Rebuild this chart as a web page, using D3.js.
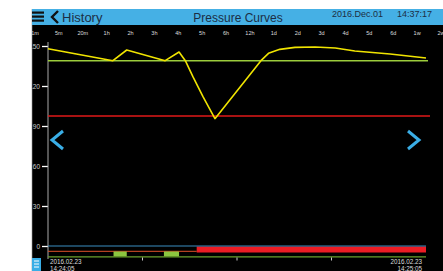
<!DOCTYPE html>
<html>
<head>
<meta charset="utf-8">
<script src="https://cdn.jsdelivr.net/npm/d3@7"></script>
<style>
  body { margin: 0; background: #fff; }
  svg { display: block; font-family: "Liberation Sans", Arial, sans-serif; }
</style>
</head>
<body>
<svg id="chart"></svg>
<script>
const width = 443;
const height = 271;

// time window labels across the top
const topLabels = ['1m','5m','20m','1h','2h','3h','4h','5h','6h','12h','1d','2d','3d','4d','5d','6d','1w','2w'];
const yTicks = [0, 30, 60, 90, 120, 150];

// pressure curve, seconds from 14:24:05
const seconds  = [0, 10.3, 12.5, 18.6, 20.8, 21.8, 23.0, 24.6, 26.5, 33.8, 35.0, 36.8, 39.2, 42.4, 45.6, 48.7, 54.3, 60];
const pressure = [148, 139, 147, 139, 145.5, 139, 127, 112, 95.5, 139, 144.5, 147.5, 149, 149.3, 148.5, 146.3, 144, 141];

const upperLimit = 139;
const lowerLimit = 97.5;

// status bars at the bottom
const greenEvents = [[10.4, 12.5], [18.4, 20.8]];
const redSpan = [23.6, 60];
const bottomTicks = [15, 30, 45];
const startLabel = ['2016.02.23', '14:24:05'];
const endLabel = ['2016.02.23', '14:25:05'];

const colors = {
    header: '#45b0e5',
    yellow: '#f0e400',
    limitGreen: '#9ccc3c',
    limitRed: '#e01818',
    blue: '#3a8ec2',
    orange: '#e0502a',
    barRed: '#ec1c24',
    barGreen: '#8cc63f',
    arrow: '#3aaee6'
};

const svg = d3.select('#chart')
    .attr('width', width)
    .attr('height', height);

// black panel
svg.append('rect').attr('x', 32).attr('y', 0).attr('width', width - 32).attr('height', height).attr('fill', '#000');

const x = d3.scaleLinear().domain([0, 60]).range([48, 426]);
const y = d3.scaleLinear().domain([0, 150]).range([246, 46]);
const xTop = d3.scalePoint().domain(topLabels).range([35, 441]);

// top labels
svg.append('g').selectAll('text')
    .data(topLabels)
    .join('text')
    .attr('x', d => xTop(d))
    .attr('y', 35)
    .attr('text-anchor', 'middle')
    .attr('fill', '#ddd')
    .attr('font-size', 5.5)
    .text(d => d);

// y axis
const yAxis = svg.append('g')
    .attr('transform', 'translate(48,0)')
    .call(d3.axisLeft(y).tickValues(yTicks).tickSize(6).tickPadding(2));
yAxis.select('.domain').remove();
yAxis.selectAll('line').attr('stroke', '#fff').attr('stroke-width', 1.3);
yAxis.selectAll('text').attr('fill', '#ccc').attr('font-size', 6.5).attr('font-family', '"Liberation Sans", Arial, sans-serif');
svg.append('line').attr('x1', 48).attr('x2', 48).attr('y1', 42).attr('y2', 259)
    .attr('stroke', '#aaa').attr('stroke-width', 1);

// limit lines
svg.append('line').attr('x1', 48).attr('x2', 428).attr('y1', y(upperLimit)).attr('y2', y(upperLimit))
    .attr('stroke', colors.limitGreen).attr('stroke-width', 1.5);
svg.append('line').attr('x1', 48).attr('x2', 430).attr('y1', y(lowerLimit)).attr('y2', y(lowerLimit))
    .attr('stroke', colors.limitRed).attr('stroke-width', 1.5);

// pressure curve
const line = d3.line()
    .x((d, i) => x(seconds[i]))
    .y(d => y(d));
svg.append('path')
    .datum(pressure)
    .attr('d', line)
    .attr('fill', 'none')
    .attr('stroke', colors.yellow)
    .attr('stroke-width', 1.6)
    .attr('stroke-linejoin', 'round');

// bottom status rows
svg.append('rect').attr('x', x(redSpan[0])).attr('y', 246.5).attr('width', x(redSpan[1]) - x(redSpan[0])).attr('height', 6)
    .attr('fill', colors.barRed);
svg.append('line').attr('x1', x(0)).attr('x2', x(60)).attr('y1', y(0)).attr('y2', y(0))
    .attr('stroke', colors.blue).attr('stroke-width', 1.2);
svg.append('line').attr('x1', x(0)).attr('x2', x(redSpan[0])).attr('y1', 251.3).attr('y2', 251.3)
    .attr('stroke', colors.orange).attr('stroke-width', 1);
svg.append('g').selectAll('rect')
    .data(greenEvents)
    .join('rect')
    .attr('x', d => x(d[0]))
    .attr('y', 251.5)
    .attr('width', d => x(d[1]) - x(d[0]))
    .attr('height', 5)
    .attr('fill', colors.barGreen);
svg.append('line').attr('x1', x(0)).attr('x2', x(60)).attr('y1', 256.8).attr('y2', 256.8)
    .attr('stroke', '#6aa02c').attr('stroke-width', 1.3);
svg.append('g').selectAll('line')
    .data(bottomTicks)
    .join('line')
    .attr('x1', d => x(d)).attr('x2', d => x(d))
    .attr('y1', 257.5).attr('y2', 260.5)
    .attr('stroke', '#ccc').attr('stroke-width', 1);

// date labels
const dateText = (lines, xPos, anchor) => {
    svg.append('g').selectAll('text')
        .data(lines)
        .join('text')
        .attr('x', xPos)
        .attr('y', (d, i) => 264 + i * 7)
        .attr('text-anchor', anchor)
        .attr('fill', '#ddd')
        .attr('font-size', 6.3)
        .text(d => d);
};
dateText(startLabel, 50, 'start');
dateText(endLabel, 422, 'end');

// nav arrows
svg.append('path').attr('d', 'M63,131 L52,140 L63,149')
    .attr('fill', 'none').attr('stroke', colors.arrow).attr('stroke-width', 3);
svg.append('path').attr('d', 'M408,131 L419,140 L408,149')
    .attr('fill', 'none').attr('stroke', colors.arrow).attr('stroke-width', 3);

// white left margin covers clipped labels
svg.append('rect').attr('x', 0).attr('y', 0).attr('width', 32).attr('height', height).attr('fill', '#fff');
svg.append('line').attr('x1', 32).attr('x2', 32).attr('y1', 0).attr('y2', height).attr('stroke', '#999').attr('stroke-width', 0.6);

// header
svg.append('rect').attr('x', 0).attr('y', 0).attr('width', width).attr('height', 9).attr('fill', '#fff');
svg.append('rect').attr('x', 32).attr('y', 9).attr('width', width - 32).attr('height', 16).attr('fill', colors.header);
[11.5, 15.5, 19.5].forEach(v => {
    svg.append('rect').attr('x', 32).attr('y', v).attr('width', 12).attr('height', 2.2).attr('fill', '#111');
});
svg.append('path').attr('d', 'M58,11 L52,17 L58,23').attr('fill', 'none').attr('stroke', '#111').attr('stroke-width', 2.4);
svg.append('text').attr('x', 62).attr('y', 21.5).attr('font-size', 13).attr('fill', '#1c2e44').text('History');
svg.append('text').attr('x', 238).attr('y', 21.5).attr('text-anchor', 'middle').attr('font-size', 12).attr('fill', '#1c2e44').text('Pressure Curves');
svg.append('text').attr('x', 332).attr('y', 17).attr('font-size', 9).attr('fill', '#1c2e44').text('2016.Dec.01');
svg.append('text').attr('x', 397).attr('y', 17).attr('font-size', 9).attr('fill', '#1c2e44').text('14:37:17');

// bottom-left list icon
svg.append('rect').attr('x', 32).attr('y', 258).attr('width', 9).attr('height', 13).attr('fill', colors.arrow);
[261, 264, 267].forEach(v => {
    svg.append('line').attr('x1', 34).attr('x2', 39).attr('y1', v).attr('y2', v).attr('stroke', '#fff').attr('stroke-width', 1);
});
</script>
</body>
</html>
